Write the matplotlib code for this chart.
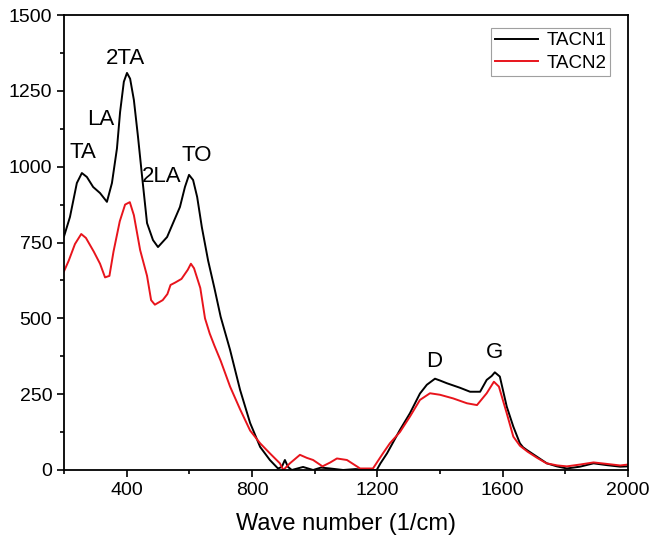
import numpy as np
import matplotlib
matplotlib.use("Agg")
import matplotlib.pyplot as plt
from matplotlib.ticker import MultipleLocator

plt.rcParams['font.family'] = ['Liberation Sans', 'DejaVu Sans']

# TACN1 (black)
x1 = [200, 219, 241, 257, 273, 293, 315, 337, 353, 369, 379, 391, 401, 411, 423,
      436, 449, 465, 484, 500, 529, 548, 570, 586, 599, 612, 625, 640, 660, 680,
      700, 730, 762, 794, 826, 857, 883, 895, 905, 915, 927, 963, 995, 1020, 1049,
      1091, 1130, 1166, 1198, 1210, 1231, 1272, 1304, 1336, 1358, 1384, 1400, 1422,
      1464, 1496, 1528, 1549, 1565, 1575, 1591, 1613, 1634, 1655, 1665, 1677, 1709,
      1741, 1773, 1805, 1847, 1890, 1933, 1975, 2000]
y1 = [770, 834, 946, 979, 966, 933, 913, 884, 946, 1060, 1180, 1280, 1309, 1290, 1220,
      1100, 970, 814, 758, 735, 768, 814, 867, 933, 973, 956, 900, 800, 690, 600,
      505, 396, 264, 155, 76, 33, 5, 10, 33, 10, 0, 10, 0, 8, 5,
      0, 3, 0, 0, 22, 55, 132, 187, 252, 281, 301, 295, 286,
      271, 258, 258, 297, 310, 322, 308, 209, 143, 88, 75, 66, 44,
      22, 12, 5, 11, 22, 16, 11, 12]

# TACN2 (red)
x2 = [200, 215, 235, 255, 270, 295, 315, 331, 345, 358, 378, 395, 410, 423, 443,
      465, 478, 490, 515, 530, 540, 555, 575, 595, 605, 615, 635, 650, 665, 680,
      700, 730, 762, 794, 826, 857, 889, 900, 921, 953, 975, 995, 1025, 1050, 1071,
      1103, 1145, 1186, 1218, 1240, 1272, 1304, 1336, 1368, 1400, 1442, 1486, 1518,
      1549, 1572, 1588, 1613, 1634, 1655, 1680, 1710, 1740, 1775, 1805, 1847, 1890,
      1933, 1975, 2000]
y2 = [655, 690, 745, 778, 765, 720, 680, 635, 640, 720, 820, 875, 883, 840, 725,
      640, 560, 545, 560, 580, 610, 618, 630, 660, 680, 665, 600, 500, 450, 410,
      360, 275, 200, 130, 88, 55, 22, 0, 22, 50, 40, 33, 12, 25, 38,
      33, 5, 5, 55, 88, 125, 176, 231, 253, 248, 236, 220, 214,
      253, 291, 275, 187, 110, 80, 60, 40, 22, 15, 12, 18, 25,
      20, 15, 18]

peak_names = ["TA", "LA", "2TA", "2LA", "TO", "D", "G"]
peak_x = [261, 318, 395, 513, 625, 1381, 1575]
peak_y = [1048, 1157, 1355, 966, 1038, 359, 386]

fig = plt.figure(figsize=(6.49, 5.42), dpi=100)
ax = fig.add_axes([64 / 649, 72 / 542, 564 / 649, 455 / 542])

ax.plot(x1, y1, color="black", lw=1.4, label="TACN1")
ax.plot(x2, y2, color="#e8141c", lw=1.4, label="TACN2")

for name, px, py in zip(peak_names, peak_x, peak_y):
    ax.text(px, py, name, fontsize=16, ha="center", va="center")

ax.set_xlim(200, 2000)
ax.set_ylim(0, 1500)
ax.xaxis.set_minor_locator(MultipleLocator(200))
ax.yaxis.set_major_locator(MultipleLocator(250))
ax.yaxis.set_minor_locator(MultipleLocator(125))
ax.set_xticks([400, 800, 1200, 1600, 2000])
ax.tick_params(which="major", direction="out", length=5, width=1.2, labelsize=14)
ax.tick_params(which="minor", direction="out", length=3, width=1.2)
for s in ax.spines.values():
    s.set_linewidth(1.3)

ax.set_xlabel("Wave number (1/cm)", fontsize=17, labelpad=10)

leg = ax.legend(loc="upper right", bbox_to_anchor=(0.968, 0.971), borderaxespad=0,
                fontsize=13.5, frameon=True, fancybox=False, edgecolor="#888888",
                handlelength=2.3, handletextpad=0.45, borderpad=0.2,
                labelspacing=0.3)
leg.get_frame().set_linewidth(0.8)

fig.savefig("out.png", dpi=100)
